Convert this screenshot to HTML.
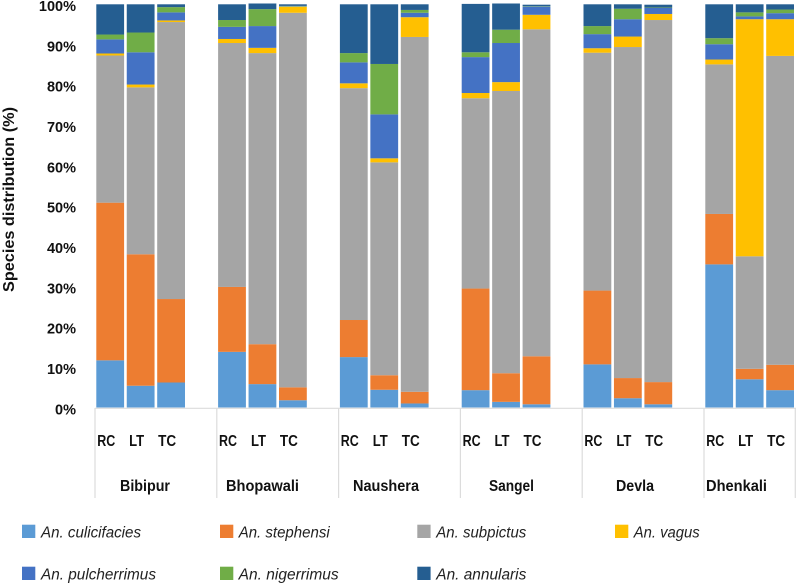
<!DOCTYPE html>
<html>
<head>
<meta charset="utf-8">
<title>Species distribution</title>
<style>
html,body{margin:0;padding:0;background:#fff;}
svg{display:block;}
text{font-family:"Liberation Sans",Arial,sans-serif;fill:#111;}
.b{font-weight:bold;}
.leg{font-style:italic;font-size:15.5px;fill:#222;}
</style>
</head>
<body>
<svg id="chart" width="796" height="583" viewBox="0 0 796 583" xmlns="http://www.w3.org/2000/svg">
<g id="bars"></g>
<g id="axis"></g>
<text class="b" transform="translate(14,292) rotate(-90)" font-size="16" textLength="185" lengthAdjust="spacingAndGlyphs">Species distribution (%)</text>
<g font-size="16">
<text class="b" x="120" y="491" textLength="50" lengthAdjust="spacingAndGlyphs">Bibipur</text>
<text class="b" x="226" y="491" textLength="73" lengthAdjust="spacingAndGlyphs">Bhopawali</text>
<text class="b" x="353" y="491" textLength="66" lengthAdjust="spacingAndGlyphs">Naushera</text>
<text class="b" x="489" y="491" textLength="45" lengthAdjust="spacingAndGlyphs">Sangel</text>
<text class="b" x="616" y="491" textLength="38" lengthAdjust="spacingAndGlyphs">Devla</text>
<text class="b" x="706" y="491" textLength="61" lengthAdjust="spacingAndGlyphs">Dhenkali</text>
</g>
<g>
<g><rect x="22" y="524.7" width="13.3" height="13.3" fill="#5B9BD5"/><text class="leg" x="41" y="537.5" textLength="100" lengthAdjust="spacingAndGlyphs">An. culicifacies</text></g>
<g><rect x="220" y="524.7" width="13.3" height="13.3" fill="#ED7D31"/><text class="leg" x="238.7" y="537.5" textLength="91" lengthAdjust="spacingAndGlyphs">An. stephensi</text></g>
<g><rect x="417.3" y="524.7" width="13.3" height="13.3" fill="#A5A5A5"/><text class="leg" x="436.3" y="537.5" textLength="90" lengthAdjust="spacingAndGlyphs">An. subpictus</text></g>
<g><rect x="615" y="524.7" width="13.3" height="13.3" fill="#FFC000"/><text class="leg" x="633.7" y="537.5" textLength="66" lengthAdjust="spacingAndGlyphs">An. vagus</text></g>
<g><rect x="22" y="566.7" width="13.3" height="13.3" fill="#4472C4"/><text class="leg" x="41" y="579.5" textLength="115" lengthAdjust="spacingAndGlyphs">An. pulcherrimus</text></g>
<g><rect x="220" y="566.7" width="13.3" height="13.3" fill="#70AD47"/><text class="leg" x="238.7" y="579.5" textLength="100" lengthAdjust="spacingAndGlyphs">An. nigerrimus</text></g>
<g><rect x="417.3" y="566.7" width="13.3" height="13.3" fill="#255E91"/><text class="leg" x="436.3" y="579.5" textLength="90" lengthAdjust="spacingAndGlyphs">An. annularis</text></g>
</g>
</svg>
<script>
var sites = ["Bibipur", "Bhopawali", "Naushera", "Sangel", "Devla", "Dhenkali"];
var treatments = ["RC", "LT", "TC"];
var tickValues = [0, 10, 20, 30, 40, 50, 60, 70, 80, 90, 100];
var tickLabels = ["0%", "10%", "20%", "30%", "40%", "50%", "60%", "70%", "80%", "90%", "100%"];

var culicifacies = [11.7, 5.4, 6.2, 13.8, 5.8, 1.8, 12.5, 4.4, 1, 4.3, 1.4, 0.8, 10.7, 2.3, 0.8, 35.5, 7, 4.3];
var stephensi = [39.1, 32.6, 20.7, 16.1, 9.9, 3.2, 9.2, 3.6, 2.9, 25.2, 7.1, 11.9, 18.3, 5, 5.5, 12.5, 2.6, 6.3];
var subpictus = [36.5, 41.4, 68.7, 60.5, 72.2, 92.9, 57.5, 52.8, 88, 47.2, 70, 81.1, 59, 82.1, 89.8, 37.1, 27.9, 76.6];
var vagus = [0.5, 0.7, 0.4, 1, 1.3, 1.5, 1.2, 1, 4.9, 1.3, 2.2, 3.6, 1.1, 2.6, 1.5, 1.2, 58.8, 9.1];
var pulcherrimus = [3.5, 8, 2, 3, 5.4, 0.1, 5.2, 10.9, 1.1, 8.9, 9.7, 2, 3.5, 4.3, 1.5, 3.8, 0.7, 1.5];
var nigerrimus = [1.2, 4.9, 1.3, 1.7, 4.2, 0.1, 2.3, 12.5, 0.7, 1.2, 3.3, 0.1, 2, 2.6, 0.1, 1.5, 1, 0.9];
var annularis = [7.5, 7, 0.7, 3.9, 1.4, 0.4, 12.1, 14.8, 1.4, 12, 6.5, 0.4, 5.4, 1.1, 0.7, 8.4, 2, 1.3];

var seriesNames = ["culicifacies", "stephensi", "subpictus", "vagus", "pulcherrimus", "nigerrimus", "annularis"];
var seriesValues = [culicifacies, stephensi, subpictus, vagus, pulcherrimus, nigerrimus, annularis];
var seriesColors = ["#5B9BD5", "#ED7D31", "#A5A5A5", "#FFC000", "#4472C4", "#70AD47", "#255E91"];

var NS = "http://www.w3.org/2000/svg";
var plotLeft = 95, groupWidth = 121.8, slotWidth = 30.45, barWidth = 27.8;
var plotBottom = 407.5, pxPerUnit = 4.032;
function yScale(v) { return plotBottom - v * pxPerUnit; }
function groupX(g) { return plotLeft + g * groupWidth; }
function barX(g, t) { return groupX(g) + 1.3 + t * slotWidth; }
function labelX(g, t) { return groupX(g) + 11.2 + t * slotWidth; }

function make(tag, attrs, parent, txt) {
  var el = document.createElementNS(NS, tag);
  for (var k in attrs) el.setAttribute(k, attrs[k]);
  if (txt !== undefined) el.textContent = txt;
  parent.appendChild(el);
  return el;
}

var barsG = document.getElementById("bars");
var axisG = document.getElementById("axis");

sites.forEach(function (site, g) {
  treatments.forEach(function (tr, t) {
    var idx = g * treatments.length + t;
    var cum = 0;
    seriesValues.forEach(function (vals, s) {
      var v = vals[idx];
      var r = make("rect", {
        x: barX(g, t),
        y: yScale(cum + v),
        width: barWidth,
        height: v * pxPerUnit,
        fill: seriesColors[s]
      }, barsG);
      
      
      cum += v;
    });
    var lab = make("text", {
      x: labelX(g, t),
      y: 446,
      "text-anchor": "middle",
      "class": "b",
      "font-size": 16,
      textLength: tr === "LT" ? 15 : 18,
      lengthAdjust: "spacingAndGlyphs"
    }, axisG, tr);
    
    
  });
  var sep = make("line", {
    x1: groupX(g), x2: groupX(g), y1: 408, y2: 498,
    stroke: "#dcdcdc", "stroke-width": 1.2
  }, axisG);
  
  
});

var endSep = make("line", {
  x1: 795.3, x2: 795.3, y1: 408, y2: 498,
  stroke: "#dcdcdc", "stroke-width": 1.2
}, axisG);



var baseLine = make("line", {
  x1: plotLeft, x2: 796, y1: 408.3, y2: 408.3,
  stroke: "#dcdcdc", "stroke-width": 1.2
}, axisG);



tickValues.forEach(function (v, i) {
  var t = make("text", {
    x: 76,
    y: yScale(v) + 6.8,
    "text-anchor": "end",
    "class": "b",
    "font-size": 14.5
  }, axisG, tickLabels[i]);
  
  
});
</script>
</body>
</html>
